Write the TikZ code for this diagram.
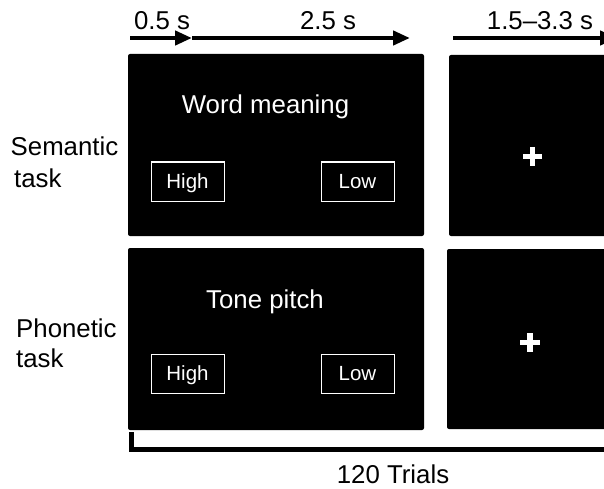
\documentclass[tikz,border=0pt]{standalone}
\usepackage{fontspec}
\setmainfont{Liberation Sans}
\usetikzlibrary{arrows.meta}
\begin{document}
\begin{tikzpicture}[x=1pt,y=-1pt,
  screen/.style={fill=black,rounded corners=2pt},
  big/.style={font=\fontsize{25.8}{30}\selectfont,inner sep=0pt},
  resp/.style={draw=white,line width=1pt,minimum width=73pt,minimum height=39pt,
    text=white,font=\fontsize{20.5}{24}\selectfont,inner sep=0pt,
    text height=14.7pt,text depth=0pt},
  timearrow/.style={line width=4.5pt,-{Triangle[length=17pt,width=14pt]}},
  cross/.style={white,line width=5.5pt}]
\clip (0,0) rectangle (604,489);
\fill[white] (0,0) rectangle (604,489);
% screens
\fill[screen] (128,54) rectangle (424,236);
\fill[screen] (128,248) rectangle (424,430);
\fill[screen] (449,55) rectangle (640,236);
\fill[screen] (447,249) rectangle (640,429);
% titles
\node[big,text=white,anchor=base] (wm) at (265.5,114) {Word meaning};
\node[big,text=white,anchor=base] (tp) at (265,308) {Tone pitch};
% response boxes
\node[resp] (h1) at (187.5,181.5) {High};
\node[resp] (l1) at (357.5,181.5) {Low};
\node[resp] (h2) at (187.5,373.5) {High};
\node[resp] (l2) at (357.5,373.5) {Low};
% fixation crosses
\draw[cross] (523,156.5) -- (542,156.5) (532.5,147) -- (532.5,166);
\draw[cross] (520,342.5) -- (540,342.5) (530,333) -- (530,352);
% row labels
\node[big,anchor=base west] (sem) at (10.5,156) {Semantic};
\node[big,anchor=base west] (sem2) at (14,187) {task};
\node[big,anchor=base west] (pho) at (16,337) {Phonetic};
\node[big,anchor=base west] (pho2) at (16,367) {task};
% time arrows
\coordinate (a0) at (130,38);
\coordinate (a1) at (192,38);
\coordinate (a2) at (410,38);
\coordinate (a3) at (453,38);
\coordinate (a4) at (617,38);
\draw[timearrow] (a0) -- (a1);
\draw[timearrow] (a1) -- (a2);
\draw[timearrow] (a3) -- (a4);
\node[big,anchor=base] (t1) at (162,30) {0.5 s};
\node[big,anchor=base] (t2) at (328,30) {2.5 s};
\node[big,anchor=base] (t3) at (540,30) {1.5–3.3 s};
% trials bracket
\coordinate (b0) at (131.5,432);
\coordinate (b1) at (131.5,449.5);
\coordinate (b2) at (610,449.5);
\draw[line width=5pt] (b0) -- (b1) -- (b2);
\node[big,anchor=base] (tr) at (393,483) {120 Trials};
\end{tikzpicture}
\end{document}
